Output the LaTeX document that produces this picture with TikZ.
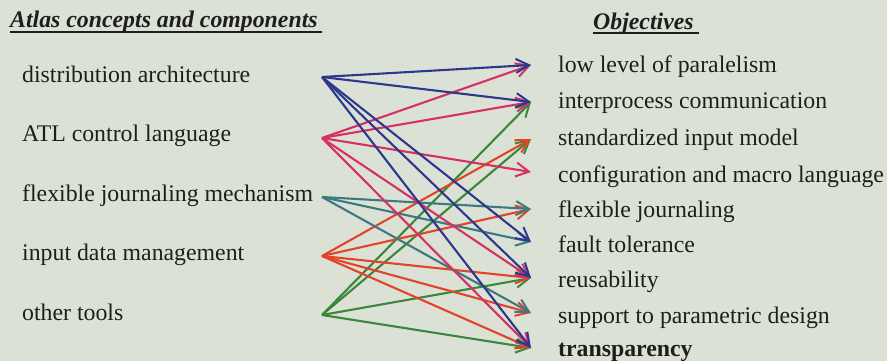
\documentclass[tikz,border=0pt]{standalone}
\usepackage{fontspec}
\setmainfont{Liberation Serif}
\usetikzlibrary{arrows.meta}
\definecolor{bgc}{RGB}{219,226,213}
\definecolor{txc}{RGB}{30,30,30}
\definecolor{cnavy}{RGB}{45,55,140}
\definecolor{cpink}{RGB}{214,48,100}
\definecolor{cteal}{RGB}{58,122,128}
\definecolor{cred}{RGB}{226,68,42}
\definecolor{cgreen}{RGB}{58,134,60}
\tikzset{
  lbl/.style={anchor=base west, inner sep=0pt, text=txc, font=\fontsize{23.8}{28}\selectfont},
  hdr/.style={lbl, font=\fontsize{23.8}{28}\selectfont\bfseries\itshape},
  link/.style={line width=2.1pt, -{Straight Barb[length=13pt,width=14pt,line width=2pt]}},
  uline/.style={line width=1.3pt, draw=txc}
}
\begin{document}
\begin{tikzpicture}[x=1pt,y=-1pt]
\fill[bgc] (0,0) rectangle (887,361);
\useasboundingbox (0,0) rectangle (887,361);
% headers
\node[hdr] (h1) at (10,28) {Atlas concepts and components};
\node[hdr] (h2) at (593,30) {Objectives};
\draw[uline] ([yshift=-4pt]h1.base west) -- ([yshift=-4pt,xshift=4pt]h1.base east);
\draw[uline] ([yshift=-3pt]h2.base west) -- ([yshift=-3pt,xshift=5pt]h2.base east);
% left labels
\node[lbl] (l1) at (22,83) {distribution architecture};
\node[lbl] (l2) at (22,142) {ATL control language};
\node[lbl] (l3) at (22,201) {flexible journaling mechanism};
\node[lbl] (l4) at (22,260) {input data management};
\node[lbl] (l5) at (22,320) {other tools};
% right labels
\node[lbl] (r1) at (558,73) {low level of paralelism};
\node[lbl] (r2) at (558,109) {interprocess communication};
\node[lbl] (r3) at (558,146) {standardized input model};
\node[lbl] (r4) at (558,182) {configuration and macro language};
\node[lbl] (r5) at (558,217) {flexible journaling};
\node[lbl] (r6) at (558,252) {fault tolerance};
\node[lbl] (r7) at (558,287) {reusability};
\node[lbl] (r8) at (558,323) {support to parametric design};
\node[lbl, font=\fontsize{23.8}{28}\selectfont\bfseries] (r9) at (558,356) {transparency};
% connector end points
\coordinate (s1) at (322,77);
\coordinate (s2) at (322,138);
\coordinate (s3) at (322,197);
\coordinate (s4) at (322,256);
\coordinate (s5) at (322,315);
\coordinate (t1) at (531,65);
\coordinate (t2) at (531,102);
\coordinate (t3) at (531,139);
\coordinate (t4) at (531,172);
\coordinate (t5) at (531,209);
\coordinate (t6) at (531,242);
\coordinate (t7) at (531,278);
\coordinate (t8) at (531,313);
\coordinate (t9) at (531,348);
% other tools (green)
\foreach \t in {t2,t3,t7,t9} \draw[link, cgreen] (s5) -- (\t);
% input data management (red)
\foreach \t in {t3,t5,t7,t8,t9} \draw[link, cred] (s4) -- (\t);
% flexible journaling mechanism (teal)
\foreach \t in {t5,t6,t8} \draw[link, cteal] (s3) -- (\t);
% ATL control language (pink)
\foreach \t in {t1,t2,t4,t7,t9} \draw[link, cpink] (s2) -- (\t);
% distribution architecture (navy)
\foreach \t in {t1,t2,t6,t7,t9} \draw[link, cnavy] (s1) -- (\t);
\end{tikzpicture}
\end{document}
